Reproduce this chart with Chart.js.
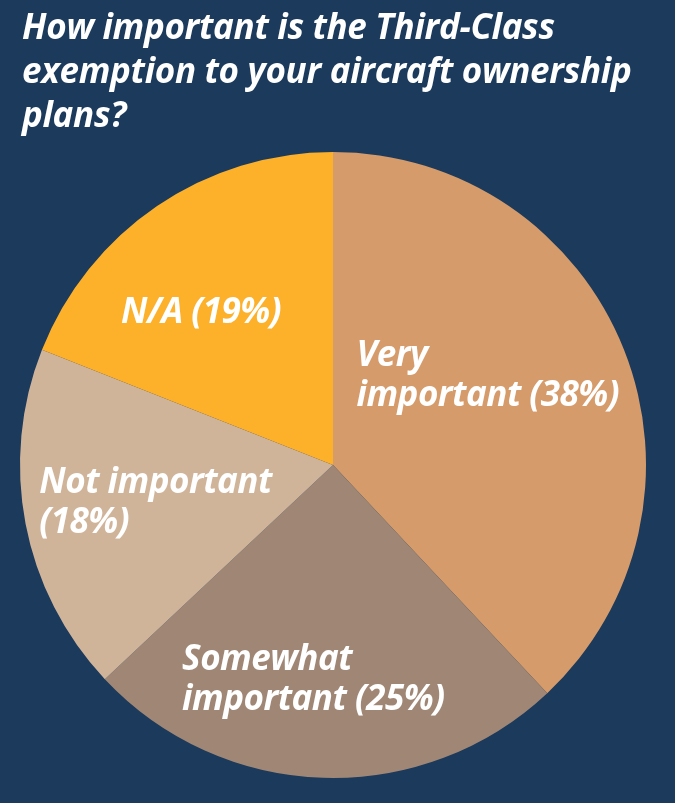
<!DOCTYPE html>
<html>
<head>
<meta charset="utf-8">
<script src="https://cdn.jsdelivr.net/npm/chart.js@4/dist/chart.umd.min.js"></script>
<style>
  html, body { margin: 0; padding: 0; background: #1b3a5c; }
  #wrap { position: relative; width: 675px; height: 803px; }
  #title {
    position: absolute; left: 22px; top: 4px; margin: 0;
    font-family: "Open Sans", sans-serif; font-style: italic; font-weight: 700;
    font-size: 35px; line-height: 44px; color: #fff; letter-spacing: -0.3px;
  }
</style>
</head>
<body>
<div id="wrap">
  <h1 id="title">How important is the Third-Class<br>exemption to your aircraft ownership<br>plans?</h1>
  <canvas id="pie" width="675" height="803"></canvas>
</div>
<script>
var categories = ['Very important', 'Somewhat important', 'Not important', 'N/A'];
var percents = [38, 25, 18, 19];
var label_lines = [['Very', 'important (38%)'], ['Somewhat', 'important (25%)'], ['Not important', '(18%)'], ['N/A (19%)']];
var colors = ['#d59b6a', '#a08775', '#d0b49a', '#fdb02a'];

// where each label sits, offset from the slice's mid point
var label_pos = [
  {dx: -122, dy: -41, align: 'left'},
  {dx: -146, dy: 49, align: 'left'},
  {dx: -140, dy: -1, align: 'left'},
  {dx: -44, dy: -13, align: 'center'}
];

var sliceLabels = {
  id: 'sliceLabels',
  afterDatasetsDraw: function(chart) {
    var ctx = chart.ctx;
    var meta = chart.getDatasetMeta(0);
    ctx.save();
    ctx.fillStyle = '#fff';
    ctx.font = 'italic 700 35px "Open Sans"';
    ctx.letterSpacing = '-0.5px';
    ctx.textBaseline = 'alphabetic';
    meta.data.forEach(function(arc, i) {
      var p = arc.tooltipPosition();
      var pos = label_pos[i];
      ctx.textAlign = pos.align;
      label_lines[i].forEach(function(line, j) {
        ctx.fillText(line, p.x + pos.dx, p.y + pos.dy + j * 40);
      });
    });
    ctx.restore();
  }
};

var pie = new Chart(document.getElementById('pie'), {
  type: 'pie',
  data: {
    labels: categories,
    datasets: [{
      data: percents,
      backgroundColor: colors,
      borderWidth: 0
    }]
  },
  options: {
    responsive: false,
    animation: false,
    layout: { padding: { top: 152, bottom: 25, left: 20, right: 29 } },
    plugins: {
      legend: { display: false },
      tooltip: { enabled: false }
    }
  },
  plugins: [sliceLabels]
});
</script>
</body>
</html>
